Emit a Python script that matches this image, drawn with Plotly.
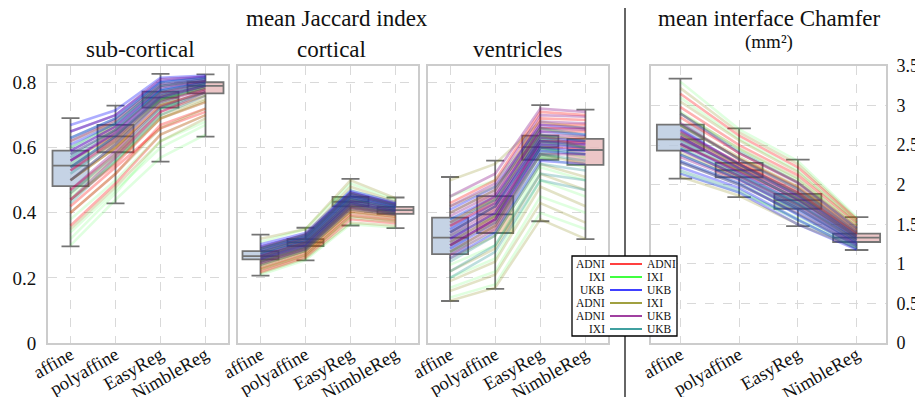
import plotly.graph_objects as go

PAGE_W, PAGE_H = 923, 405
OFF = 8  # default body margin of the generated html page
W, H = PAGE_W - 2 * OFF, PAGE_H - 2 * OFF  # keeps the page free of scrollbars
FONT = "Liberation Serif"

methods = ["affine", "polyaffine", "EasyReg", "NimbleReg"]
pair_left = ["ADNI", "IXI", "UKB", "ADNI", "ADNI", "IXI"]
pair_right = ["ADNI", "IXI", "UKB", "IXI", "UKB", "UKB"]
pair_colors = ["#ff0000", "#00ff00", "#0000ff", "#808000", "#800080", "#008080"]
pair_alpha = [0.30, 0.12, 0.32, 0.22, 0.32, 0.26]
box_fill = ["rgba(182,200,222,0.80)", "rgba(240,200,172,0.80)",
            "rgba(160,205,170,0.80)", "rgba(231,184,185,0.80)"]

jaccard_ticks = [0, 0.2, 0.4, 0.6, 0.8]
jaccard_ticktext = ["0", "0.2", "0.4", "0.6", "0.8"]
chamfer_ticks = [0, 0.5, 1, 1.5, 2, 2.5, 3, 3.5]
chamfer_ticktext = ["0", "0.5", "1", "1.5", "2", "2.5", "3", "3.5"]

# ---- box statistics (low whisker, q1, median, q3, high whisker) ----
sub_low = [0.297, 0.429, 0.557, 0.634]
sub_q1 = [0.482, 0.586, 0.723, 0.767]
sub_med = [0.545, 0.635, 0.754, 0.790]
sub_q3 = [0.591, 0.670, 0.772, 0.801]
sub_high = [0.691, 0.729, 0.827, 0.825]

cort_low = [0.207, 0.254, 0.361, 0.353]
cort_q1 = [0.257, 0.298, 0.420, 0.397]
cort_med = [0.267, 0.309, 0.434, 0.408]
cort_q3 = [0.282, 0.319, 0.449, 0.418]
cort_high = [0.333, 0.354, 0.504, 0.447]

vent_low = [0.129, 0.166, 0.374, 0.319]
vent_q1 = [0.273, 0.338, 0.563, 0.547]
vent_med = [0.324, 0.395, 0.602, 0.593]
vent_q3 = [0.385, 0.451, 0.637, 0.627]
vent_high = [0.510, 0.560, 0.731, 0.717]

cham_low = [2.078, 1.843, 1.477, 1.175]
cham_q1 = [2.431, 2.094, 1.696, 1.276]
cham_med = [2.573, 2.183, 1.805, 1.331]
cham_q3 = [2.758, 2.276, 1.885, 1.381]
cham_high = [3.341, 2.712, 2.317, 1.591]

# ---- per-subject lines (affine, polyaffine, EasyReg, NimbleReg) ----
sub_adni_adni = [[0.36, 0.49, 0.64, 0.70], [0.40, 0.52, 0.67, 0.72], [0.44, 0.55, 0.69, 0.74],
                 [0.47, 0.58, 0.71, 0.76], [0.50, 0.60, 0.73, 0.77], [0.53, 0.62, 0.745, 0.78],
                 [0.56, 0.64, 0.76, 0.79], [0.42, 0.54, 0.66, 0.71]]
sub_ixi_ixi = [[0.30, 0.44, 0.57, 0.64], [0.34, 0.47, 0.60, 0.67], [0.38, 0.50, 0.64, 0.70],
               [0.45, 0.56, 0.69, 0.74], [0.50, 0.60, 0.72, 0.76], [0.55, 0.64, 0.75, 0.78],
               [0.60, 0.67, 0.78, 0.80], [0.32, 0.46, 0.62, 0.68]]
sub_ukb_ukb = [[0.56, 0.645, 0.765, 0.795], [0.59, 0.665, 0.78, 0.805], [0.61, 0.675, 0.79, 0.81],
               [0.63, 0.69, 0.80, 0.815], [0.65, 0.70, 0.805, 0.818], [0.67, 0.715, 0.815, 0.822],
               [0.58, 0.655, 0.775, 0.80], [0.54, 0.635, 0.755, 0.79]]
sub_adni_ixi = [[0.35, 0.48, 0.62, 0.69], [0.40, 0.52, 0.66, 0.72], [0.46, 0.57, 0.70, 0.75],
                [0.50, 0.60, 0.73, 0.77], [0.54, 0.63, 0.75, 0.785], [0.58, 0.655, 0.77, 0.795],
                [0.62, 0.68, 0.79, 0.805], [0.44, 0.555, 0.69, 0.745]]
sub_adni_ukb = [[0.50, 0.61, 0.74, 0.78], [0.53, 0.63, 0.755, 0.79], [0.56, 0.65, 0.77, 0.80],
                [0.59, 0.665, 0.785, 0.805], [0.62, 0.685, 0.795, 0.81], [0.65, 0.70, 0.81, 0.818],
                [0.47, 0.59, 0.725, 0.775], [0.44, 0.57, 0.71, 0.77]]
sub_ixi_ukb = [[0.46, 0.58, 0.72, 0.77], [0.50, 0.61, 0.745, 0.785], [0.54, 0.635, 0.76, 0.795],
               [0.57, 0.655, 0.775, 0.80], [0.60, 0.675, 0.79, 0.81], [0.43, 0.56, 0.70, 0.76],
               [0.52, 0.62, 0.75, 0.79], [0.63, 0.69, 0.80, 0.815]]

cort_adni_adni = [[0.225, 0.27, 0.39, 0.375], [0.232, 0.277, 0.398, 0.382], [0.24, 0.284, 0.405, 0.388],
                  [0.247, 0.29, 0.412, 0.393], [0.254, 0.296, 0.418, 0.398], [0.26, 0.302, 0.424, 0.402],
                  [0.268, 0.308, 0.43, 0.406], [0.218, 0.264, 0.38, 0.368]]
cort_ixi_ixi = [[0.21, 0.255, 0.365, 0.355], [0.235, 0.28, 0.40, 0.385], [0.26, 0.305, 0.43, 0.405],
                [0.285, 0.33, 0.47, 0.43], [0.31, 0.35, 0.49, 0.44], [0.25, 0.295, 0.42, 0.40],
                [0.275, 0.32, 0.455, 0.42], [0.225, 0.268, 0.385, 0.372]]
cort_ukb_ukb = [[0.265, 0.305, 0.435, 0.41], [0.272, 0.312, 0.442, 0.414], [0.278, 0.318, 0.448, 0.418],
                [0.284, 0.323, 0.453, 0.421], [0.29, 0.328, 0.458, 0.425], [0.296, 0.333, 0.463, 0.428],
                [0.303, 0.338, 0.468, 0.432], [0.258, 0.298, 0.428, 0.405]]
cort_adni_ixi = [[0.215, 0.26, 0.37, 0.36], [0.24, 0.283, 0.405, 0.39], [0.265, 0.31, 0.44, 0.412],
                 [0.29, 0.335, 0.48, 0.435], [0.32, 0.35, 0.50, 0.445], [0.25, 0.292, 0.415, 0.397],
                 [0.278, 0.322, 0.46, 0.424], [0.228, 0.272, 0.39, 0.378]]
cort_adni_ukb = [[0.25, 0.293, 0.42, 0.40], [0.258, 0.30, 0.428, 0.405], [0.265, 0.307, 0.435, 0.41],
                 [0.272, 0.313, 0.442, 0.414], [0.28, 0.32, 0.45, 0.419], [0.288, 0.326, 0.457, 0.424],
                 [0.245, 0.288, 0.415, 0.396], [0.295, 0.332, 0.462, 0.428]]
cort_ixi_ukb = [[0.255, 0.297, 0.425, 0.402], [0.262, 0.304, 0.432, 0.407], [0.27, 0.311, 0.44, 0.412],
                [0.277, 0.317, 0.446, 0.416], [0.285, 0.324, 0.453, 0.421], [0.248, 0.29, 0.418, 0.398],
                [0.292, 0.33, 0.46, 0.426], [0.24, 0.284, 0.41, 0.393]]

vent_adni_adni = [[0.28, 0.36, 0.60, 0.60], [0.31, 0.39, 0.63, 0.63], [0.34, 0.42, 0.65, 0.65],
                  [0.37, 0.45, 0.67, 0.67], [0.40, 0.47, 0.69, 0.685], [0.43, 0.50, 0.71, 0.70],
                  [0.36, 0.43, 0.66, 0.66], [0.30, 0.38, 0.62, 0.615]]
vent_ixi_ixi = [[0.14, 0.18, 0.40, 0.35], [0.17, 0.22, 0.45, 0.40], [0.20, 0.26, 0.50, 0.45],
                [0.24, 0.30, 0.54, 0.50], [0.28, 0.34, 0.57, 0.54], [0.33, 0.39, 0.60, 0.57],
                [0.38, 0.44, 0.63, 0.60], [0.45, 0.50, 0.66, 0.63]]
vent_ukb_ukb = [[0.26, 0.34, 0.56, 0.55], [0.29, 0.37, 0.59, 0.58], [0.32, 0.40, 0.61, 0.60],
                [0.35, 0.43, 0.63, 0.62], [0.38, 0.45, 0.65, 0.64], [0.41, 0.48, 0.67, 0.66],
                [0.30, 0.38, 0.60, 0.59], [0.34, 0.42, 0.62, 0.61]]
vent_adni_ixi = [[0.13, 0.17, 0.38, 0.32], [0.16, 0.21, 0.43, 0.37], [0.19, 0.25, 0.48, 0.42],
                 [0.22, 0.29, 0.52, 0.47], [0.26, 0.33, 0.55, 0.51], [0.30, 0.37, 0.58, 0.55],
                 [0.42, 0.48, 0.64, 0.60], [0.50, 0.55, 0.68, 0.66]]
vent_adni_ukb = [[0.27, 0.35, 0.58, 0.58], [0.30, 0.38, 0.61, 0.61], [0.33, 0.41, 0.64, 0.635],
                 [0.36, 0.44, 0.66, 0.655], [0.39, 0.46, 0.68, 0.675], [0.42, 0.49, 0.70, 0.695],
                 [0.45, 0.52, 0.72, 0.71], [0.32, 0.40, 0.62, 0.62]]
vent_ixi_ukb = [[0.22, 0.30, 0.52, 0.50], [0.25, 0.33, 0.55, 0.53], [0.28, 0.36, 0.58, 0.56],
                [0.31, 0.39, 0.60, 0.58], [0.34, 0.42, 0.62, 0.60], [0.37, 0.44, 0.64, 0.62],
                [0.20, 0.28, 0.50, 0.47], [0.40, 0.47, 0.66, 0.64]]

cham_adni_adni = [[2.50, 2.18, 1.82, 1.34], [2.58, 2.23, 1.87, 1.37], [2.66, 2.28, 1.92, 1.40],
                  [2.75, 2.33, 1.97, 1.43], [2.85, 2.40, 2.03, 1.47], [2.98, 2.50, 2.12, 1.52],
                  [3.15, 2.62, 2.22, 1.56], [2.62, 2.25, 1.89, 1.38]]
cham_ixi_ixi = [[2.30, 2.02, 1.68, 1.26], [2.45, 2.12, 1.78, 1.31], [2.60, 2.22, 1.86, 1.36],
                [2.75, 2.33, 1.96, 1.42], [2.92, 2.45, 2.06, 1.48], [3.10, 2.58, 2.18, 1.54],
                [3.30, 2.70, 2.30, 1.59], [2.15, 1.90, 1.58, 1.22]]
cham_ukb_ukb = [[2.22, 1.96, 1.56, 1.19], [2.30, 2.02, 1.62, 1.22], [2.38, 2.07, 1.68, 1.25],
                [2.45, 2.11, 1.72, 1.27], [2.52, 2.15, 1.76, 1.30], [2.60, 2.20, 1.81, 1.32],
                [2.70, 2.26, 1.86, 1.35], [2.14, 1.90, 1.50, 1.18]]
cham_adni_ixi = [[2.40, 2.10, 1.74, 1.30], [2.52, 2.18, 1.82, 1.34], [2.64, 2.26, 1.90, 1.39],
                 [2.76, 2.35, 1.98, 1.44], [2.90, 2.46, 2.08, 1.49], [3.05, 2.56, 2.16, 1.53],
                 [3.22, 2.66, 2.26, 1.57], [2.10, 1.86, 1.50, 1.20]]
cham_adni_ukb = [[2.35, 2.06, 1.70, 1.26], [2.44, 2.11, 1.75, 1.29], [2.52, 2.16, 1.80, 1.32],
                 [2.60, 2.21, 1.85, 1.35], [2.68, 2.26, 1.90, 1.38], [2.78, 2.32, 1.95, 1.41],
                 [2.90, 2.40, 2.02, 1.45], [2.28, 2.00, 1.64, 1.23]]
cham_ixi_ukb = [[2.28, 2.00, 1.63, 1.23], [2.38, 2.07, 1.70, 1.27], [2.47, 2.13, 1.76, 1.30],
                [2.56, 2.19, 1.82, 1.33], [2.65, 2.25, 1.88, 1.36], [2.76, 2.32, 1.94, 1.40],
                [2.90, 2.42, 2.03, 1.45], [2.18, 1.93, 1.55, 1.20]]

panels = [
    dict(ax="", lines=[sub_adni_adni, sub_ixi_ixi, sub_ukb_ukb, sub_adni_ixi, sub_adni_ukb, sub_ixi_ukb],
         box=[sub_low, sub_q1, sub_med, sub_q3, sub_high]),
    dict(ax="2", lines=[cort_adni_adni, cort_ixi_ixi, cort_ukb_ukb, cort_adni_ixi, cort_adni_ukb, cort_ixi_ukb],
         box=[cort_low, cort_q1, cort_med, cort_q3, cort_high]),
    dict(ax="3", lines=[vent_adni_adni, vent_ixi_ixi, vent_ukb_ukb, vent_adni_ixi, vent_adni_ukb, vent_ixi_ukb],
         box=[vent_low, vent_q1, vent_med, vent_q3, vent_high]),
    dict(ax="4", lines=[cham_adni_adni, cham_ixi_ixi, cham_ukb_ukb, cham_adni_ixi, cham_adni_ukb, cham_ixi_ukb],
         box=[cham_low, cham_q1, cham_med, cham_q3, cham_high]),
]


def rgba(hexc, a):
    h = hexc.lstrip("#")
    return "rgba(%d,%d,%d,%.2f)" % (int(h[0:2], 16), int(h[2:4], 16), int(h[4:6], 16), a)


def fx(px):  # page pixel -> paper x
    return (px - OFF) / W


def fy(py):  # page pixel -> paper y
    return 1 - (py - OFF) / H


xpos = list(range(len(methods)))
fig = go.Figure()

# lines first (drawn beneath boxes)
for p in panels:
    for gi, group in enumerate(p["lines"]):
        for row in group:
            fig.add_trace(go.Scatter(
                x=xpos, y=row, mode="lines",
                line=dict(color=rgba(pair_colors[gi], pair_alpha[gi]), width=2.6),
                xaxis="x" + p["ax"], yaxis="y" + p["ax"],
                showlegend=False, hoverinfo="skip"))

for p in panels:
    low, q1, med, q3, high = p["box"]
    for i in xpos:
        fig.add_trace(go.Box(
            x=[i], q1=[q1[i]], median=[med[i]], q3=[q3[i]],
            lowerfence=[low[i]], upperfence=[high[i]],
            width=0.8, whiskerwidth=0.5, boxpoints=False,
            fillcolor=box_fill[i], line=dict(color="#747474", width=1.8),
            xaxis="x" + p["ax"], yaxis="y" + p["ax"],
            showlegend=False, hoverinfo="skip"))

x_domains = [(48, 228), (238, 418), (427.5, 608), (651, 886)]
ydom = [fy(343), fy(66)]

grid = dict(showgrid=True, gridcolor="#d9d9d9", griddash="dash", gridwidth=1,
            showline=True, mirror=True, linecolor="#cccccc", linewidth=2,
            zeroline=False, ticks="", automargin=False)
tickfont = dict(family=FONT, size=19, color="#111111")
xtickfont = dict(family=FONT, size=18.5, color="#111111")

layout = dict(
    width=W, height=H, margin=dict(l=0, r=0, t=0, b=0, autoexpand=False),
    paper_bgcolor="white", plot_bgcolor="white", showlegend=False,
    boxmode="overlay",
)
for k, (a, b) in enumerate(x_domains):
    sfx = "" if k == 0 else str(k + 1)
    layout["xaxis" + sfx] = dict(
        domain=[fx(a), fx(b)], anchor="y" + sfx, range=[-0.5, 3.5],
        tickvals=xpos, ticktext=methods, tickangle=-30, tickfont=xtickfont,
        ticklabelstandoff=-8, **grid)
    if k < 3:
        ya = dict(domain=ydom, anchor="x" + sfx, range=[0, 0.851],
                  tickvals=jaccard_ticks, ticktext=jaccard_ticktext,
                  tickfont=tickfont, ticklabelstandoff=6, **grid)
        if k > 0:
            ya["matches"] = "y"
            ya["showticklabels"] = False
    else:
        ya = dict(domain=ydom, anchor="x" + sfx, range=[0, 3.5], side="right",
                  tickvals=chamfer_ticks, ticktext=chamfer_ticktext,
                  tickfont=dict(family=FONT, size=18, color="#111111"),
                  ticklabelstandoff=5, **grid)
    layout["yaxis" + sfx] = ya

fig.update_layout(**layout)


def ann(text, px, py, size, xanchor="center"):
    fig.add_annotation(text=text, x=fx(px), y=fy(py), xref="paper", yref="paper",
                       showarrow=False, xanchor=xanchor, yanchor="middle",
                       font=dict(family=FONT, size=size, color="#111111"))


ann("mean Jaccard index", 337, 18, 23)
ann("sub-cortical", 140, 50, 23)
ann("cortical", 331, 50, 23)
ann("ventricles", 517, 50, 23)
ann("mean interface Chamfer", 769, 18, 23)
ann("(mm²)", 769, 42, 19)

# divider between metric groups
fig.add_shape(type="line", xref="paper", yref="paper", x0=fx(625), x1=fx(625), y0=0, y1=1,
              line=dict(color="#333333", width=1.5))

# custom legend (pair of datasets per colour)
fig.add_shape(type="rect", xref="paper", yref="paper",
              x0=fx(572), x1=fx(677), y0=fy(336), y1=fy(256),
              fillcolor="white", line=dict(color="black", width=1.3), layer="above")
for i in range(len(pair_colors)):
    yy = 264 + 13 * i
    fig.add_shape(type="line", xref="paper", yref="paper", x0=fx(610), x1=fx(642),
                  y0=fy(yy), y1=fy(yy), line=dict(color=pair_colors[i], width=1.5),
                  layer="above")
    ann(pair_left[i], 607, yy, 11.5, "right")
    ann(pair_right[i], 645, yy, 11.5, "left")

fig.write_html("out.html")
